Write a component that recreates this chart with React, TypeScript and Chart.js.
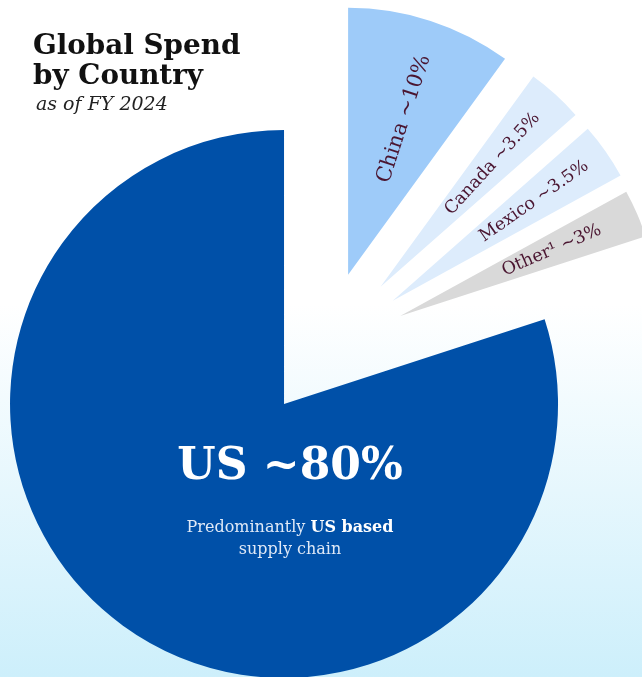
import React, { useEffect, useRef } from "react";
import { Chart, registerables } from "chart.js";

Chart.register(...registerables);

// ---- data ----
const categories = ["China", "Canada", "Mexico", "Other", "US"];
const shares = [10, 3.5, 3.5, 3, 80];
const sliceLabels = ["China ~10%", "Canada ~3.5%", "Mexico ~3.5%", "Other\u00b9 ~3%", ""];

// ---- styles ----
const sliceColors = ["#9ecbf9", "#ddecfc", "#ddecfc", "#d9d9d9", "#0050a8"];
const W = 642;
const H = 677;
const PIE_CENTER = { x: 324, y: 349 };
const explode = [78, 84, 84, 83, 68];
const radii = [267, 260, 260, 258, 274];
const labelPos = [0.62, 0.64, 0.665, 0.64, 0];
const labelNudge = [5, 0, 0, 0, 0];
const labelFont = [21, 17.5, 17.5, 17.5, 0];
const FONT = '"DejaVu Serif", Georgia, serif';

function SliceChart({ index }: { index: number }) {
  const ref = useRef<HTMLCanvasElement>(null);
  useEffect(() => {
    const total = shares.reduce((a, b) => a + b, 0);
    const before = shares.slice(0, index).reduce((a, b) => a + b, 0);
    const mid = ((before + shares[index] / 2) / total) * Math.PI * 2;
    const cx = PIE_CENTER.x + explode[index] * Math.sin(mid);
    const cy = PIE_CENTER.y - explode[index] * Math.cos(mid);
    const a = Math.min(cx, W - cx);
    const b = Math.min(cy, H - cy);

    const labelPlugin = {
      id: "sliceLabel",
      afterDatasetsDraw(chart: any) {
        const text = sliceLabels[index];
        if (!text) return;
        const arc = chart.getDatasetMeta(0).data[index] as any;
        const ang = (arc.startAngle + arc.endAngle) / 2;
        const d = arc.outerRadius * labelPos[index];
        const ctx = chart.ctx;
        ctx.save();
        ctx.translate(arc.x + d * Math.cos(ang), arc.y + d * Math.sin(ang));
        ctx.rotate(ang);
        ctx.font = `${labelFont[index]}px ${FONT}`;
        ctx.fillStyle = "#4a1530";
        ctx.textAlign = "center";
        ctx.textBaseline = "middle";
        ctx.fillText(text, 0, labelNudge[index]);
        ctx.restore();
      },
    };

    const chart = new Chart(ref.current as HTMLCanvasElement, {
      type: "pie",
      data: {
        labels: categories,
        datasets: [
          {
            data: shares,
            backgroundColor: sliceColors.map((c, j) => (j === index ? c : "rgba(0,0,0,0)")),
            borderWidth: 0,
            clip: false as any,
          },
        ],
      },
      options: {
        responsive: false,
        animation: false,
        events: [],
        radius: radii[index],
        layout: {
          padding: { left: cx - a, right: W - cx - a, top: cy - b, bottom: H - cy - b },
        },
        plugins: { legend: { display: false }, tooltip: { enabled: false } },
      } as any,
      plugins: [labelPlugin],
    });
    return () => chart.destroy();
  }, [index]);
  return (
    <canvas
      ref={ref}
      width={W}
      height={H}
      style={{ position: "absolute", left: 0, top: 0, width: W, height: H }}
    />
  );
}

export default function App() {
  return (
    <div
      style={{
        position: "absolute",
        left: 0,
        top: 0,
        width: W,
        height: H,
        overflow: "hidden",
        background: "linear-gradient(to bottom, #ffffff 0%, #ffffff 45%, #cdeffb 100%)",
        fontFamily: FONT,
      }}
    >
      {shares.map((_, i) => (
        <SliceChart key={i} index={i} />
      ))}
      <div
        style={{
          position: "absolute",
          left: 33,
          top: 30,
          fontSize: 27.8,
          lineHeight: "29.5px",
          fontWeight: "bold",
          color: "#111",
          whiteSpace: "nowrap",
        }}
      >
        Global Spend
        <br />
        by Country
      </div>
      <div
        style={{
          position: "absolute",
          left: 36,
          top: 91,
          fontSize: 19,
          lineHeight: "24px",
          fontStyle: "italic",
          color: "#222",
          whiteSpace: "nowrap",
        }}
      >
        as of FY 2024
      </div>
      <div
        style={{
          position: "absolute",
          left: 90,
          top: 439,
          width: 400,
          textAlign: "center",
          fontSize: 44,
          lineHeight: "50px",
          fontWeight: "bold",
          color: "#ffffff",
        }}
      >
        US ~80%
      </div>
      <div
        style={{
          position: "absolute",
          left: 90,
          top: 516,
          width: 400,
          textAlign: "center",
          fontSize: 16,
          lineHeight: "22px",
          color: "#dfe9f7",
        }}
      >
        Predominantly <b style={{ color: "#ffffff" }}>US based</b>
        <br />
        supply chain
      </div>
    </div>
  );
}
